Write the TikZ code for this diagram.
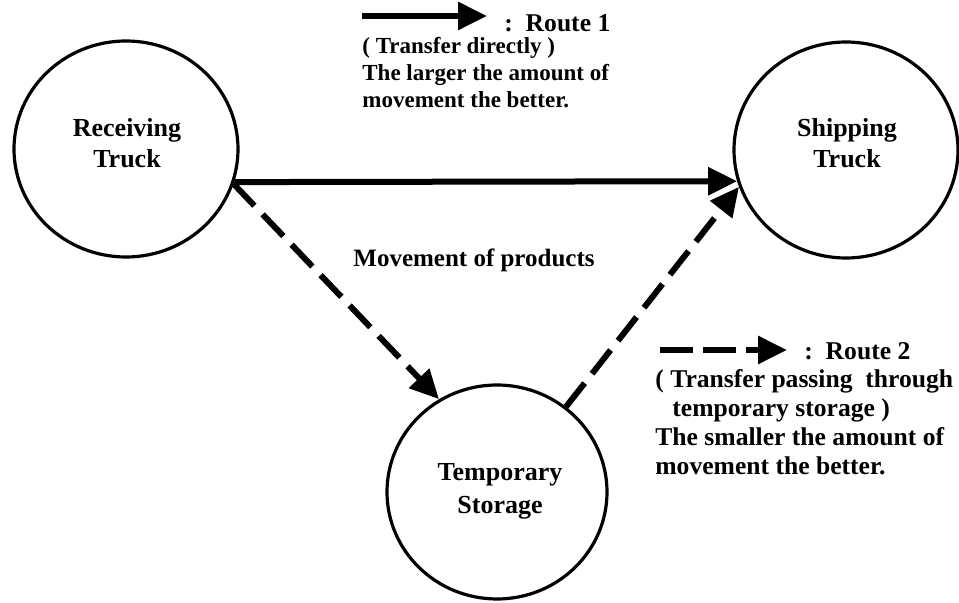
\documentclass[tikz,border=0pt]{standalone}
\usepackage{fontspec}
\setmainfont{Liberation Serif}
\usetikzlibrary{shapes.geometric,arrows.meta}
\begin{document}
\begin{tikzpicture}[x=0.5pt,y=-0.5pt,
  every node/.style={font=\fontsize{11.5}{14.5}\selectfont\bfseries},
  place/.style={ellipse,draw,line width=1.6pt,minimum width=112pt,minimum height=108pt,inner sep=0pt},
  caption/.style={align=center,font=\fontsize{13}{15.5}\selectfont\bfseries},
  legendline/.style={anchor=base west,inner sep=0pt},
  bigline/.style={legendline,font=\fontsize{12.8}{15}\selectfont\bfseries},
  routelabel/.style={legendline,font=\fontsize{12.8}{15}\selectfont\bfseries},
  head/.style={-{Triangle[length=14.5pt,width=13.5pt]}},
  direct/.style={head,line width=3pt},
  viastore/.style={head,line width=3pt,dash pattern=on 15pt off 6pt},
  legenddash/.style={head,line width=3pt,dash pattern=on 16.5pt off 5pt},
]
\useasboundingbox (0,0) rectangle (959,603);

% the three places
\node[place] (recv) at (126,149) {};
\node[place] (ship) at (846,150) {};
\node[place,minimum width=110pt,minimum height=107pt] (temp) at (497,492) {};
\node[caption] (recvtext) at (127,143) {Receiving\\Truck};
\node[caption] (shiptext) at (847,143) {Shipping\\Truck};
\node[caption,font=\fontsize{13}{16.5}\selectfont\bfseries] (temptext) at (500,491) {Temporary\\Storage};

% routes between them
\draw[direct] (recv.-17) -- (ship.-164);
\draw[viastore] (recv.-18) -- (temp.122);
\draw[viastore] (temp.51) -- (ship.-161);
\node[font=\fontsize{12.5}{15}\selectfont\bfseries] (movement) at (474,260) {Movement of products};

% legend: route 1
\coordinate (keyonea) at (362,16);
\coordinate (keyoneb) at (487,16);
\draw[direct] (keyonea) -- (keyoneb);
\node[routelabel] (routeone) at (504,32) {:\ \ Route 1};
\node[legendline] (oneline1) at (362,54) {( Transfer directly )};
\node[legendline] (oneline2) at (362,81) {The larger the amount of};
\node[legendline] (oneline3) at (362,108) {movement the better.};

% legend: route 2
\coordinate (keytwoa) at (660,350);
\coordinate (keytwob) at (787,350);
\draw[legenddash] (keytwoa) -- (keytwob);
\node[routelabel] (routetwo) at (804,360) {:\ \ Route 2};
\node[bigline] (twoline1) at (655,388) {( Transfer passing\ \ through};
\node[bigline] (twoline2) at (672,417) {temporary storage )};
\node[bigline] (twoline3) at (655,446) {The smaller the amount of};
\node[bigline] (twoline4) at (655,475) {movement the better.};
\end{tikzpicture}
\end{document}
